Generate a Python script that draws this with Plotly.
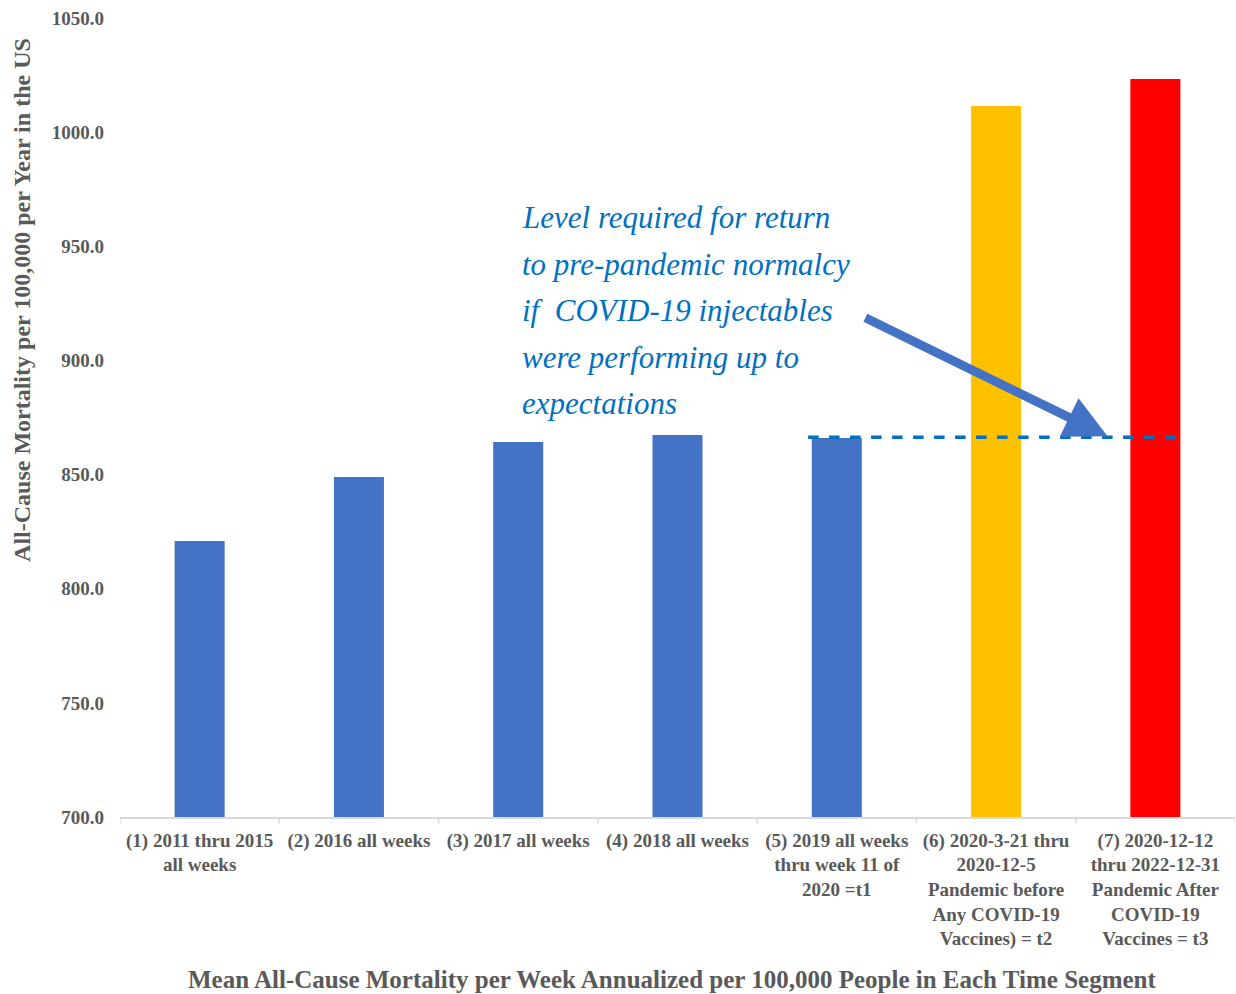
import plotly.graph_objects as go

categories = [
    "(1) 2011 thru 2015<br>all weeks",
    "(2) 2016 all weeks",
    "(3) 2017 all weeks",
    "(4) 2018 all weeks",
    "(5) 2019 all weeks<br>thru week 11 of<br>2020 =t1",
    "(6) 2020-3-21 thru<br>2020-12-5<br>Pandemic before<br>Any COVID-19<br>Vaccines) = t2",
    "(7) 2020-12-12<br>thru 2022-12-31<br>Pandemic After<br>COVID-19<br>Vaccines = t3",
]
values = [820.9, 848.9, 864.3, 867.3, 866.0, 1011.4, 1023.3]
bar_colors = ["#4472C4"] * 5 + ["#FFC000", "#FF0000"]
reference_level = 866.4
note_lines = [
    "Level required for return",
    "to pre-pandemic normalcy",
    "if  COVID-19 injectables",
    "were performing up to",
    "expectations",
]

serif = "Liberation Serif, Times New Roman, serif"
gray = "#595959"

fig = go.Figure()
fig.add_trace(go.Bar(
    x=list(range(len(categories))), y=values,
    marker=dict(color=bar_colors, line=dict(width=0)),
    showlegend=False, hoverinfo="y",
))

# dashed reference line from bar 5 to bar 7
fig.add_shape(type="line", xref="x", yref="y",
              x0=3.82, x1=6.18, y0=reference_level, y1=reference_level,
              line=dict(color="#0070C0", width=3.5, dash="dash"))

# arrow
fig.add_annotation(x=5.70, y=866.8, ax=4.17, ay=919.0,
                   xref="x", yref="y", axref="x", ayref="y",
                   text="", showarrow=True, arrowhead=2, arrowsize=0.95,
                   arrowwidth=9, arrowcolor="#4472C4")

# note text
line_y = [962.4 - 20.3 * i for i in range(len(note_lines))]
for txt, yy in zip(note_lines, line_y):
    fig.add_annotation(x=2.01, y=yy, xref="x", yref="y", text=txt,
                       showarrow=False, xanchor="left", yanchor="middle",
                       font=dict(family=serif, size=31, color="#0070C0", style="italic"))

# axis titles
fig.add_annotation(x=-0.088, y=0.647, xref="paper", yref="paper",
                   text="All-Cause Mortality per 100,000 per Year in the US",
                   textangle=-90, showarrow=False, xanchor="center", yanchor="middle",
                   font=dict(family=serif, size=24, color=gray, weight="bold"))
fig.add_annotation(x=0.495, y=-0.204, xref="paper", yref="paper",
                   text="Mean All-Cause Mortality per Week Annualized per 100,000 People in Each Time Segment",
                   showarrow=False, xanchor="center", yanchor="middle",
                   font=dict(family=serif, size=25, color=gray, weight="bold"))

fig.update_layout(
    width=1236, height=994,
    margin=dict(l=120, r=1, t=18, b=177),
    paper_bgcolor="white", plot_bgcolor="white",
    bargap=0.686,
    font=dict(family=serif, color=gray),
    xaxis=dict(
        tickmode="array", tickvals=list(range(len(categories))),
        ticktext=categories,
        range=[-0.5, 6.5], showline=True, linecolor="#D9D9D9", linewidth=1.5,
        ticks="", showgrid=False, zeroline=False, ticklabelstandoff=5,
        tickfont=dict(family=serif, size=19, color=gray, weight="bold"),
    ),
    yaxis=dict(
        range=[700, 1050], tickvals=[700, 750, 800, 850, 900, 950, 1000, 1050],
        tickformat=".1f", showgrid=False, zeroline=False, showline=False,
        ticklabelstandoff=15,
        tickfont=dict(family=serif, size=19, color=gray, weight="bold"),
    ),
)

# category boundary tick marks
for b in [i - 0.5 for i in range(len(categories) + 1)]:
    fig.add_shape(type="line", xref="x", yref="paper", x0=b, x1=b, y0=0, y1=-0.008,
                  line=dict(color="#D9D9D9", width=1.5))

fig.write_html("out.html")
